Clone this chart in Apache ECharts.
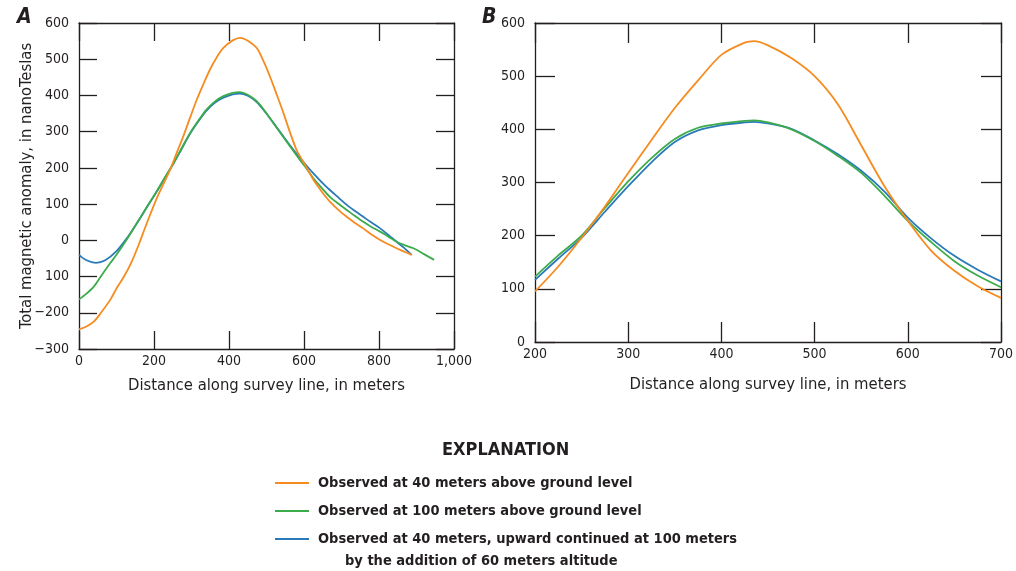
<!DOCTYPE html>
<html>
<head>
<meta charset="utf-8">
<script src="https://cdn.jsdelivr.net/npm/echarts@6/dist/echarts.min.js"></script>
<style>
  html, body { margin: 0; padding: 0; background: #fff; }
  #chart { width: 1016px; height: 571px; }
</style>
</head>
<body>
<div id="chart"></div>
<script>
//图例名称
let names = [
    "Observed at 40 meters above ground level",
    "Observed at 100 meters above ground level",
    "Observed at 40 meters, upward continued at 100 meters"
];

//A图数据 [距离, 异常值]
let aObs40 = [[0,-246],[20,-238],[40,-224],[60,-198],[84,-163],[100,-133],[120,-100],[140,-60],[160,-10],[180,45],[207,115],[225,155],[243,195],[260,240],[278,287],[296,338],[314,388],[332,432],[349,471],[367,505],[385,531],[410,552],[430,559],[450,551],[474,531],[492,495],[509,453],[527,403],[545,352],[562,300],[580,250],[595,222],[610,195],[625,167],[640,145],[652,128],[669,107],[696,80],[714,65],[736,48],[758,33],[780,16],[803,1],[825,-11],[847,-22],[867,-31],[887,-40]];
let aObs100 = [[0,-163],[20,-147],[40,-127],[60,-97],[84,-62],[100,-40],[129,5],[145,32],[163,62],[185,99],[207,135],[230,175],[252,213],[274,255],[296,296],[318,330],[340,361],[362,383],[385,398],[410,407],[429,409],[450,402],[474,384],[496,356],[518,324],[540,292],[563,259],[589,222],[607,198],[625,171],[647,145],[669,120],[692,101],[714,84],[736,67],[758,51],[780,37],[803,24],[825,10],[847,-4],[870,-14],[892,-22],[920,-38],[947,-54]];
let aUpward = [[0,-40],[20,-55],[45,-62],[70,-55],[100,-30],[129,8],[145,32],[163,61],[185,98],[207,134],[230,174],[252,212],[274,253],[296,294],[318,328],[340,358],[362,380],[385,394],[410,403],[429,405],[450,399],[474,382],[496,355],[518,325],[540,294],[563,262],[589,228],[607,206],[625,185],[647,161],[669,139],[692,118],[714,98],[736,81],[758,65],[780,49],[803,33],[825,15],[847,-4],[867,-21],[887,-40]];

//B图数据
let bObs40 = [[200,95],[225,142],[250,196],[275,255],[300,318],[325,380],[350,440],[375,492],[400,540],[425,563],[435,566],[450,558],[475,534],[500,500],[525,447],[550,370],[575,293],[600,228],[625,172],[650,134],[675,105],[700,83]];
let bObs100 = [[200,123],[225,163],[250,200],[275,252],[300,302],[325,346],[350,382],[375,403],[400,411],[425,416],[435,417],[450,413],[475,400],[500,378],[525,350],[550,318],[575,275],[600,228],[625,188],[650,152],[675,125],[700,103]];
let bUpward = [[200,117],[225,157],[250,196],[275,245],[300,293],[325,338],[350,376],[375,398],[400,408],[425,413],[435,414],[450,411],[475,401],[500,379],[525,353],[550,322],[575,283],[600,234],[625,195],[650,162],[675,136],[700,114]];

//坐标轴刻度 [min, max, interval]
let aXRange = [0, 1000, 200];
let aYRange = [-300, 600, 100];
let bXRange = [200, 700, 100];
let bYRange = [0, 600, 100];

let colors = ["#f68b1f", "#3cab4a", "#2a7ab9"];
let font = "'Liberation Sans Narrow', 'DejaVu Sans Condensed', sans-serif";
let ink = "#231f20";

//y轴标签, 保留原图的写法
function aYLabel(v) {
    if (v === -100) return "100";
    if (v < 0) return "\u2212" + Math.abs(v);
    return String(v);
}
function xLabel(v) {
    return v >= 1000 ? "1,000" : String(v);
}

//生成坐标轴 (四边都有刻度)
function makeAxis(type, grid, range, pos, tickLen, showLabel, formatter, name, nameGap) {
    let axis = {
        type: "value",
        gridIndex: grid,
        position: pos,
        min: range[0],
        max: range[1],
        interval: range[2],
        splitLine: { show: false },
        axisLine: { show: true, onZero: false, lineStyle: { color: ink, width: 1.3 } },
        axisTick: { show: true, inside: true, length: tickLen, lineStyle: { color: ink, width: 1.3 } },
        axisLabel: {
            show: showLabel,
            color: ink,
            fontFamily: font,
            fontSize: 14,
            margin: type === "x" ? 5 : 10,
            formatter: formatter
        }
    };
    if (name) {
        axis.name = name;
        axis.nameLocation = "middle";
        axis.nameGap = nameGap;
        axis.nameMoveOverlap = false;
        axis.nameTextStyle = { color: ink, fontFamily: font, fontSize: 16.5 };
    }
    return axis;
}

function makeSeries(data, idx, axisIdx) {
    return {
        type: "line",
        name: names[idx],
        data: data,
        xAxisIndex: axisIdx,
        yAxisIndex: axisIdx,
        showSymbol: false,
        smooth: 0.3,
        lineStyle: { color: colors[idx], width: 1.8 },
        itemStyle: { color: colors[idx] },
        z: 3 - idx
    };
}

let xTitle = "Distance along survey line, in meters";

let option = {
    animation: false,
    grid: [
        { left: 79, top: 23, width: 375, height: 326 },
        { left: 535, top: 23, width: 467, height: 319 }
    ],
    xAxis: [
        makeAxis("x", 0, aXRange, "bottom", 18, true, xLabel, xTitle, 28),
        makeAxis("x", 1, bXRange, "bottom", 20, true, xLabel, xTitle, 34),
        makeAxis("x", 0, aXRange, "top", 18, false),
        makeAxis("x", 1, bXRange, "top", 20, false)
    ],
    yAxis: [
        makeAxis("y", 0, aYRange, "left", 18, true, aYLabel, "Total magnetic anomaly, in nanoTeslas", 44),
        makeAxis("y", 1, bYRange, "left", 20, true, null),
        makeAxis("y", 0, aYRange, "right", 18, false),
        makeAxis("y", 1, bYRange, "right", 20, false)
    ],
    legend: {
        orient: "vertical",
        left: 275,
        top: 473,
        padding: 0,
        icon: "rect",
        itemWidth: 34,
        itemHeight: 2,
        itemGap: 8,
        data: names,
        selectedMode: false,
        textStyle: {
            color: ink,
            fontFamily: font,
            fontSize: 14.5,
            fontWeight: "bold",
            lineHeight: 20,
            padding: [0, 0, 0, 4]
        }
    },
    graphic: [
        { type: "text", left: 17, top: 7, style: { text: "A", fill: ink, font: "italic bold 21px " + font } },
        { type: "text", left: 482, top: 7, style: { text: "B", fill: ink, font: "italic bold 21px " + font } },
        { type: "text", left: 442, top: 441, style: { text: "EXPLANATION", fill: ink, font: "bold 18px " + font } },
        { type: "text", left: 345, top: 554, style: { text: "by the addition of 60 meters altitude", fill: ink, font: "bold 14.5px " + font } }
    ],
    series: [
        makeSeries(aObs40, 0, 0),
        makeSeries(aObs100, 1, 0),
        makeSeries(aUpward, 2, 0),
        makeSeries(bObs40, 0, 1),
        makeSeries(bObs100, 1, 1),
        makeSeries(bUpward, 2, 1)
    ]
};

let myChart = echarts.init(document.getElementById("chart"));
myChart.setOption(option);
</script>
</body>
</html>
